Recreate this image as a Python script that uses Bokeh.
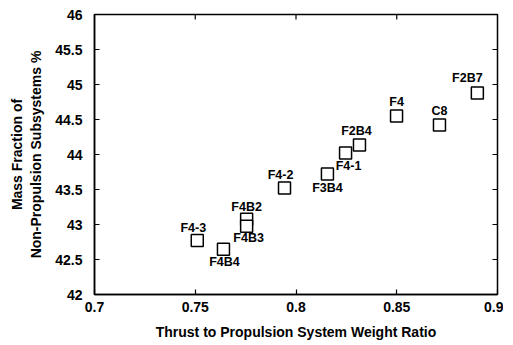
import math
from bokeh.plotting import figure
from bokeh.models import ColumnDataSource, FixedTicker, Range1d
from bokeh.embed import file_html
from bokeh.resources import INLINE
from bokeh.core.properties import value

# data
names = ["F4-3", "F4B4", "F4B2", "F4B3", "F4-2", "F3B4", "F4-1", "F2B4", "F4", "C8", "F2B7"]
ratio = [0.751, 0.764, 0.7755, 0.7755, 0.7943, 0.8156, 0.8246, 0.8315, 0.8499, 0.8712, 0.890]
mass_frac = [42.77, 42.645, 43.075, 42.975, 43.52, 43.72, 44.02, 44.136, 44.55, 44.42, 44.88]

x_ticks = [0.7, 0.75, 0.8, 0.85, 0.9]
x_tick_labels = ["0.7", "0.75", "0.8", "0.85", "0.9"]
y_ticks = [42, 42.5, 43, 43.5, 44, 44.5, 45, 45.5, 46]
y_tick_labels = ["42", "42.5", "43", "43.5", "44", "44.5", "45", "45.5", "46"]

# label placement (pixel offsets, style only)
lab_dx = [-4, 1, 0, 2, -4, 0, 3, -3, 0, 0, -10]
lab_dy = [-13, 13, -12, 12, -13, 14, 13, -14, -14, -14, -15]

src = ColumnDataSource(dict(x=ratio, y=mass_frac, name=names, dx=lab_dx, dy=lab_dy))

FONT = "Liberation Sans"
x0, x1 = x_ticks[0], x_ticks[-1]
y0, y1 = y_ticks[0], y_ticks[-1]

p = figure(frame_width=403, frame_height=280, output_backend="svg", toolbar_location=None,
           x_range=Range1d(x0, x1), y_range=Range1d(y0, y1),
           min_border_left=94, min_border_right=6, min_border_top=14, min_border_bottom=30)
p.grid.visible = False
p.outline_line_color = "black"
p.outline_line_width = 1.5

# inner ticks on top and right edges
p.ray(x=x_ticks[1:-1], y=[y1] * (len(x_ticks) - 2), length=5, length_units="screen",
      angle=-math.pi / 2, line_color="black", line_width=1.2)
p.ray(x=[x1] * (len(y_ticks) - 2), y=y_ticks[1:-1], length=5, length_units="screen",
      angle=math.pi, line_color="black", line_width=1.2)

p.scatter("x", "y", source=src, marker="square", size=12, fill_color="white",
          line_color="black", line_width=1.5)
p.text("x", "y", text="name", source=src, x_offset="dx", y_offset="dy",
       text_font=value(FONT), text_font_style="bold", text_font_size="12.5px",
       text_align="center", text_baseline="middle", text_color="black")

def style_axis(ax, ticks, labels):
    ax.ticker = FixedTicker(ticks=ticks)
    ax.major_label_overrides = {t: l for t, l in zip(ticks, labels)}
    ax.major_tick_in = 5
    ax.major_tick_out = 0
    ax.minor_tick_in = 0
    ax.minor_tick_out = 0
    ax.axis_line_color = "black"
    ax.axis_line_width = 1.5
    ax.major_tick_line_width = 1.2
    ax.major_label_text_font = FONT
    ax.major_label_text_font_style = "bold"
    ax.major_label_text_font_size = "14px"
    ax.major_label_text_color = "black"
    ax.axis_label_text_font = FONT
    ax.axis_label_text_font_style = "bold"
    ax.axis_label_text_font_size = "14px"
    ax.axis_label_text_color = "black"

style_axis(p.xaxis[0], x_ticks, x_tick_labels)
style_axis(p.yaxis[0], y_ticks, y_tick_labels)
p.xaxis[0].axis_label = "Thrust to Propulsion System Weight Ratio"
p.yaxis[0].axis_label = "Mass Fraction of\nNon-Propulsion Subsystems %"
p.xaxis[0].major_label_standoff = 7
p.xaxis[0].axis_label_standoff = 9
p.yaxis[0].major_label_standoff = 12
p.yaxis[0].axis_label_standoff = 8

open("out.html", "w").write(file_html(p, INLINE))
